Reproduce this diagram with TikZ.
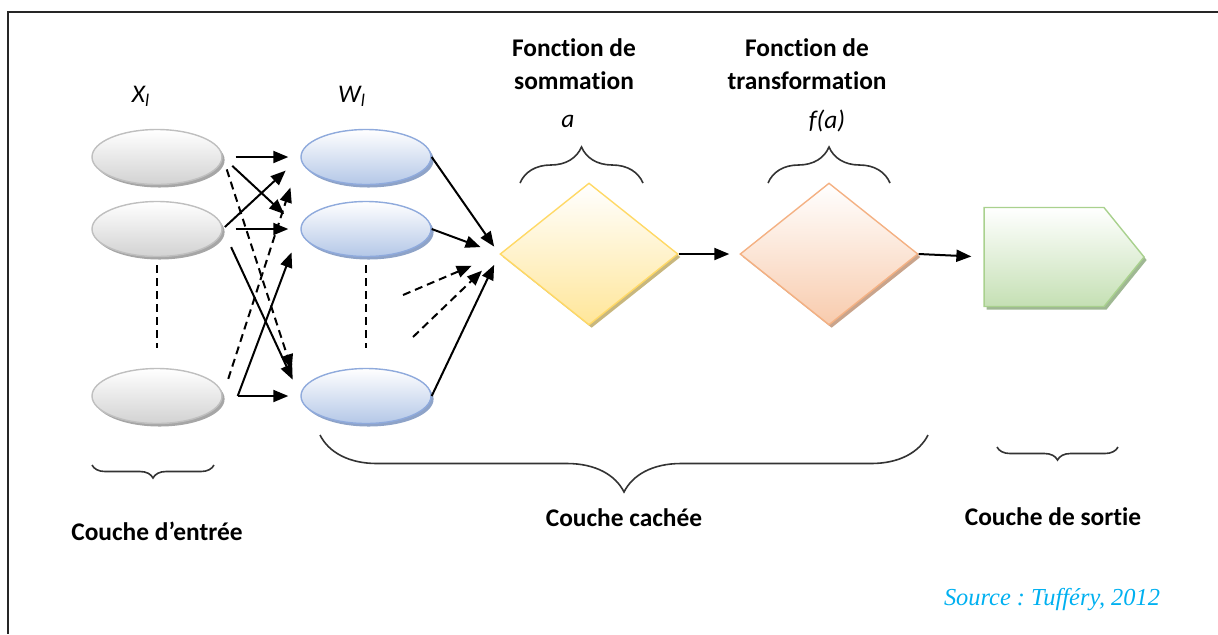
\documentclass[tikz,border=0pt]{standalone}
\usepackage{fontspec}
\setmainfont{Carlito}[Ligatures=NoCommon]
\newfontfamily\sourcefont{Liberation Serif}
\usepackage{xcolor}
\usepackage{tikz}
\usetikzlibrary{arrows.meta, positioning, shapes.geometric, shapes.symbols, decorations.pathreplacing, shadows}

\definecolor{grisbord}{HTML}{BFBFBF}
\definecolor{grisfond}{HTML}{D2D2D2}
\definecolor{grisombre}{HTML}{A6A6A6}
\definecolor{bleubord}{HTML}{8FAADC}
\definecolor{bleufond}{HTML}{B4C7E7}
\definecolor{bleuombre}{HTML}{8EA3C8}
\definecolor{jaunebord}{HTML}{FFD966}
\definecolor{jaunefond}{HTML}{FFE699}
\definecolor{jauneombre}{HTML}{C8B77E}
\definecolor{orangebord}{HTML}{F4B183}
\definecolor{orangefond}{HTML}{F8CBAD}
\definecolor{orangeombre}{HTML}{C9A48C}
\definecolor{vertbord}{HTML}{A9D18E}
\definecolor{vertfond}{HTML}{C5E0B4}
\definecolor{vertombre}{HTML}{9FB893}
\definecolor{source}{HTML}{00B0F0}

\begin{document}
\begin{tikzpicture}[
    x=0.5pt, y=-0.5pt,
    every node/.style={font=\fontsize{12.7}{16.5}\selectfont},
    entree/.style={ellipse, draw=grisbord, line width=0.7pt, top color=white, bottom color=grisfond,
      minimum width=65pt, minimum height=27.5pt, inner sep=0pt,
      drop shadow={shadow xshift=1.3pt, shadow yshift=-1.5pt, fill=grisombre, opacity=1}},
    poids/.style={ellipse, draw=bleubord, line width=0.7pt, top color=white, bottom color=bleufond,
      minimum width=65pt, minimum height=27.5pt, inner sep=0pt,
      drop shadow={shadow xshift=1.3pt, shadow yshift=-1.5pt, fill=bleuombre, opacity=1}},
    somme/.style={diamond, draw=jaunebord, line width=0.7pt, top color=white, bottom color=jaunefond,
      minimum width=89pt, minimum height=71pt, inner sep=0pt,
      drop shadow={shadow xshift=1.3pt, shadow yshift=-1.5pt, fill=jauneombre, opacity=1}},
    transfo/.style={diamond, draw=orangebord, line width=0.7pt, top color=white, bottom color=orangefond,
      minimum width=89pt, minimum height=71pt, inner sep=0pt,
      drop shadow={shadow xshift=1.3pt, shadow yshift=-1.5pt, fill=orangeombre, opacity=1}},
    sortie/.style={signal, signal to=east, signal pointer angle=102, draw=vertbord, line width=0.7pt,
      top color=white, bottom color=vertfond, minimum width=80pt, minimum height=49.5pt, inner sep=0pt,
      drop shadow={shadow xshift=1.3pt, shadow yshift=-1.5pt, fill=vertombre, opacity=1}},
    lien/.style={line width=1pt, -{Triangle[length=7.5pt,width=6pt]}},
    pointille/.style={dash pattern=on 4pt off 2.5pt},
    accolade/.style={decorate, decoration={brace, amplitude=#1}, line width=0.8pt, draw=black!80},
    titre/.style={font=\bfseries\fontsize{12.7}{16.5}\selectfont, align=center}
  ]
  \useasboundingbox (0,0) rectangle (1218,634);
  \draw[line width=1.2pt, black!85] (1218,12) -- (8,12) -- (8,634);

  \node (lx) at (141,96) {\textit{X\textsubscript{l}}};
  \node (lw) at (352,96) {\textit{W\textsubscript{l}}};

  \node[entree] (x1) at (157,157) {};
  \node[entree] (x2) at (157,229) {};
  \node[entree] (x3) at (157,396) {};
  \node[poids] (w1) at (366,157) {};
  \node[poids] (w2) at (366,229) {};
  \node[poids] (w3) at (366,396) {};
  \draw[line width=1pt, pointille, shorten <=4pt, shorten >=10pt] (x2) -- (x3);
  \draw[line width=1pt, pointille, shorten <=4pt, shorten >=10pt] (w2) -- (w3);

  \node[somme] (s1) at (589,254) {};
  \node[transfo] (t1) at (829,254) {};
  \node[sortie] (out) at (1044,257) {};

  \draw[lien, shorten <=6.5pt, shorten >=6pt] (x1.east) -- (w1.west);
  \draw[lien, shorten <=6.5pt, shorten >=11pt] (x1.east) -- (w2.west);
  \draw[lien, pointille, shorten <=6.5pt, shorten >=14pt] (x1.east) -- (w3.west);
  \draw[lien, shorten <=1.5pt, shorten >=10pt] (x2.east) -- (w1.west);
  \draw[lien, shorten <=6.5pt, shorten >=6pt] (x2.east) -- (w2.west);
  \draw[lien, shorten <=10pt, shorten >=9pt] (x2.east) -- (w3.west);
  \draw[lien, pointille, shorten <=9pt, shorten >=16pt] (x3.east) -- (w1.west);
  \draw[lien, shorten >=12.5pt] ([xshift=7.5pt]x3.east) -- (w2.west);
  \draw[lien, shorten >=6pt] ([xshift=7.5pt]x3.east) -- (w3.west);

  \coordinate (p1) at (403,295);
  \coordinate (p2) at (413,337);
  \draw[lien, shorten >=4.5pt] (w1.east) -- (s1.west);
  \draw[lien, shorten >=10pt] (w2.east) -- (s1.west);
  \draw[lien, pointille, shorten >=15pt] (p1) -- (s1.west);
  \draw[lien, pointille, shorten >=12pt] (p2) -- (s1.west);
  \draw[lien, shorten >=6pt] (w3.east) -- (s1.west);
  \draw[lien, shorten >=5pt] (s1.east) -- (t1.west);
  \draw[lien, shorten >=6pt] (t1.east) -- (out.west);

  \node[titre] (fs) at (574,64) {Fonction de\\sommation};
  \node[titre] (ft) at (807,64) {Fonction de\\transformation};
  \node (la) at (568,121) {\textit{a}};
  \node (lf) at (827,121) {\textit{f(a)}};
  \draw[accolade=18pt] (520,183) -- (643,183);
  \draw[accolade=18pt] (768,183) -- (890,183);

  \draw[accolade=6.5pt] (214,465) -- (92,465);
  \draw[accolade=28.5pt] (928,435) -- (320,435);
  \draw[accolade=6.5pt] (1118,447) -- (997,447);
  \node[titre] (ce) at (157,531) {Couche d’entrée};
  \node[titre] (cc) at (624,518) {Couche cachée};
  \node[titre] (cs) at (1053,517) {Couche de sortie};

  \node[font=\sourcefont\itshape\fontsize{12.2}{14}\selectfont, text=source] (src) at (1052,600) {\frenchspacing Source : Tufféry, 2012};
\end{tikzpicture}
\end{document}
